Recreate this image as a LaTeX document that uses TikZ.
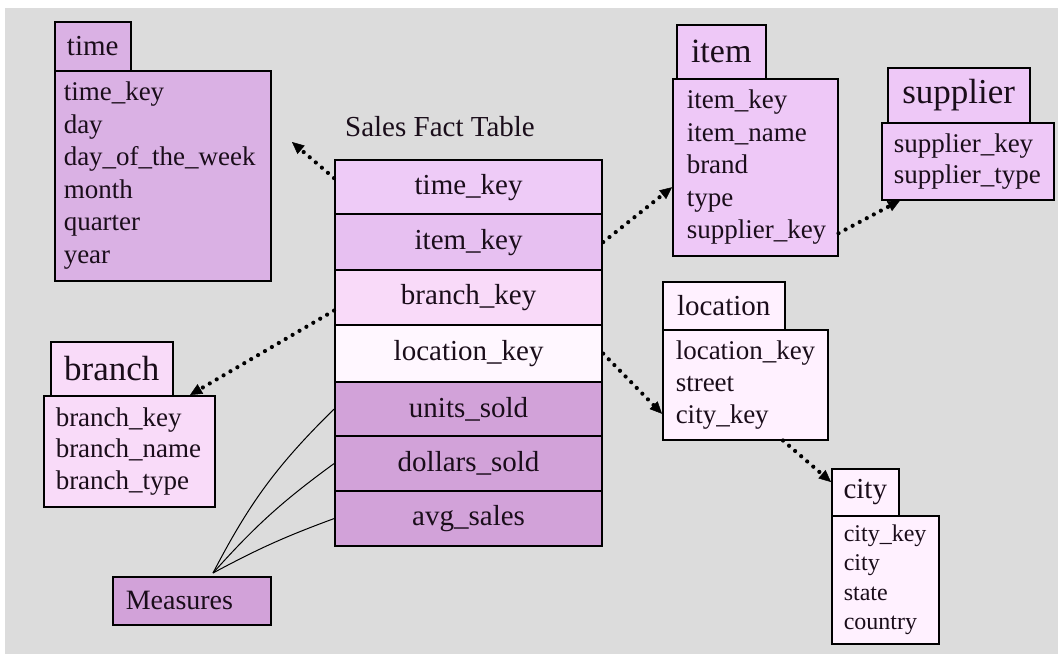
\documentclass[tikz,border=0pt]{standalone}
\usepackage{fontspec}
\setmainfont{Liberation Serif}
\usetikzlibrary{arrows.meta,calc}

% palette
\definecolor{paper}{HTML}{DCDCDC}
\definecolor{timeC}{HTML}{DAB1E4}
\definecolor{itemC}{HTML}{EEC8F7}
\definecolor{branchC}{HTML}{F9DBF9}
\definecolor{locC}{HTML}{FFF1FF}
\definecolor{measC}{HTML}{D2A2D9}
\definecolor{ftTime}{HTML}{EECBF7}
\definecolor{ftItem}{HTML}{E7C0F1}
\definecolor{ftBranch}{HTML}{F9DAF9}
\definecolor{ftLoc}{HTML}{FFF7FF}
\definecolor{ink}{HTML}{1A0D1A}

\tikzset{
  tab/.style={draw=black, line width=1.5pt, anchor=north west, inner sep=0pt,
    text=ink},
  body/.style={draw=black, line width=1.5pt, anchor=north west, inner xsep=12pt,
    inner ysep=0pt, align=left, text=ink, font=\fontsize{27}{32.5}\selectfont},
  factrow/.style={draw=black, line width=2.2pt, anchor=north west, inner sep=0pt,
    minimum width=267pt, text=ink, font=\fontsize{29}{30}\selectfont},
  dotarrow/.style={line width=4.2pt, line cap=round, dash pattern=on 0pt off 8pt,
    -{Triangle[length=12pt,width=11pt,line width=0.5pt]}},
  measline/.style={line width=1pt, draw=black},
}

\begin{document}
\begin{tikzpicture}[x=1pt,y=-1pt]
  % page and grey backdrop
  \fill[white] (0,0) rectangle (1058,654);
  \useasboundingbox (0,0) rectangle (1058,654);
  \fill[paper] (5,8) rectangle (1058,654);

  % time dimension
  \node[body, fill=timeC, inner xsep=9pt, text width=198pt, minimum height=210pt]
    (time-body) at (54,70) {time\_key\\day\\day\_of\_the\_week\\month\\quarter\\year};
  \node[tab, fill=timeC, minimum width=76pt, minimum height=49pt,
    font=\fontsize{29}{30}\selectfont] (time-tab) at (54,21) {time};

  % item dimension
  \node[body, fill=itemC, inner xsep=14pt, text width=137pt, minimum height=177pt]
    (item-body) at (672,78) {item\_key\\item\_name\\brand\\type\\supplier\_key};
  \node[tab, fill=itemC, minimum width=89pt, minimum height=54pt,
    font=\fontsize{34}{35}\selectfont] (item-tab) at (676,24) {item};

  % supplier dimension
  \node[body, fill=itemC, text width=148pt, minimum height=77pt,
    font=\fontsize{27}{31}\selectfont]
    (sup-body) at (881,122) {supplier\_key\\supplier\_type};
  \node[tab, fill=itemC, minimum width=142pt, minimum height=55pt,
    font=\fontsize{35}{36}\selectfont] (sup-tab) at (887,67) {supplier};

  % location dimension
  \node[body, fill=locC, inner xsep=13pt, text width=139pt, minimum height=110pt,
    font=\fontsize{27}{32}\selectfont]
    (loc-body) at (662,329) {location\_key\\street\\city\_key};
  \node[tab, fill=locC, minimum width=122pt, minimum height=48pt,
    font=\fontsize{29}{30}\selectfont] (loc-tab) at (662,281) {location};

  % city dimension
  \node[body, fill=locC, text width=83pt, minimum height=128pt,
    font=\fontsize{24}{29.5}\selectfont]
    (city-body) at (831,515) {city\_key\\city\\state\\country};
  \node[tab, fill=locC, minimum width=67pt, minimum height=47pt,
    font=\fontsize{29}{30}\selectfont] (city-tab) at (831,468) {city};

  % branch dimension
  \node[body, fill=branchC, text width=147pt, minimum height=111pt,
    font=\fontsize{27}{31.5}\selectfont]
    (br-body) at (43,395) {branch\_key\\branch\_name\\branch\_type};
  \node[tab, fill=branchC, minimum width=122pt, minimum height=54pt,
    font=\fontsize{35}{36}\selectfont] (br-tab) at (50,341) {branch};

  % measures label
  \node[draw=black, line width=1.5pt, anchor=north west, fill=measC, text=ink,
    minimum width=158pt, minimum height=48pt, inner xsep=13pt, align=left,
    text width=132pt, font=\fontsize{28}{30}\selectfont]
    (meas) at (112,576) {Measures};

  % fact table
  \node[text=ink, font=\fontsize{29}{30}\selectfont] (ft-title) at (440,127)
    {Sales Fact Table};
  \node[factrow, fill=ftTime,   minimum height=54pt] (ft-time)    at (334,159) {time\_key};
  \node[factrow, fill=ftItem,   minimum height=56pt] (ft-item)    at (334,213) {item\_key};
  \node[factrow, fill=ftBranch, minimum height=55pt] (ft-branch)  at (334,269) {branch\_key};
  \node[factrow, fill=ftLoc,    minimum height=57pt] (ft-loc)     at (334,324) {location\_key};
  \node[factrow, fill=measC,    minimum height=54pt] (ft-units)   at (334,381) {units\_sold};
  \node[factrow, fill=measC,    minimum height=55pt] (ft-dollars) at (334,435) {dollars\_sold};
  \node[factrow, fill=measC,    minimum height=55pt] (ft-avg)     at (334,490) {avg\_sales};

  % foreign-key links
  \coordinate (time-link) at (292,142);
  \draw[dotarrow] ([yshift=9pt]ft-time.west) -- (time-link);
  \draw[dotarrow] (ft-item.east) -- ([yshift=-20pt]item-body.west);
  \draw[dotarrow] ([yshift=-66pt]item-body.east) -- ($(sup-body.south west)+(19,0)$);
  \draw[dotarrow] ([yshift=-13pt]ft-branch.west) -- ($(br-body.north west)+(147,0)$);
  \draw[dotarrow] (ft-loc.east) -- ([yshift=-29pt]loc-body.west);
  \draw[dotarrow] ($(loc-body.south west)+(121,0)$) -- ($(city-tab.north west)+(0,14)$);

  % measures to the measure columns
  \coordinate (meas-top) at ($(meas.north west)+(101,-3)$);
  \draw[measline] (meas-top) to[bend left=9] (ft-units.west);
  \draw[measline] (meas-top) to[bend left=6] (ft-dollars.west);
  \draw[measline] (meas-top) to[bend left=4] (ft-avg.west);
\end{tikzpicture}
\end{document}
